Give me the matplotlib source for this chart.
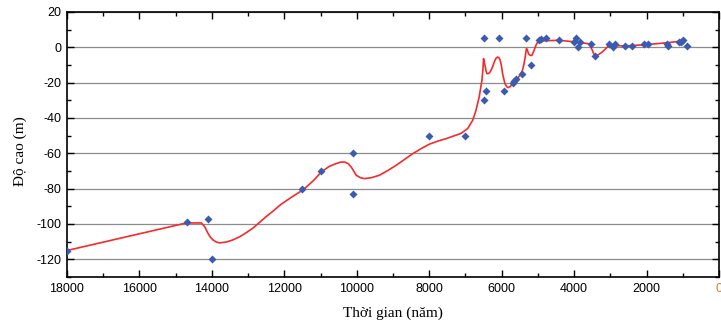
import matplotlib.pyplot as plt
from matplotlib.ticker import MultipleLocator

plt.rcParams['axes.unicode_minus'] = False

# Measured sea level points (years BP, metres)
pt_years = [18000, 14700, 14100, 14000, 11500, 11000, 10100, 10100, 8000, 7000,
            6500, 6430, 6480, 6070, 5330, 5935, 5700, 5650, 5600, 5440, 5180,
            4980, 4915, 4780, 4430, 3950, 4000, 3840, 3900, 3540, 3430, 3030,
            2920, 2875, 2590, 2410, 2080, 1950, 1430, 1415, 1105, 1040, 985, 885]
pt_levels = [-115, -99, -97, -120, -80, -70, -83, -60, -50, -50,
             5, -25, -30, 5, 5, -25, -20, -19, -18, -15, -10,
             4, 4.6, 5, 4, 5, 3, 3, 0, 2, -5, 2,
             0, 2, 1, 1, 2, 2, 2, 1, 3, 3, 4, 1]

# Fitted curve
fit_years = [18000, 14700, 14290, 14200, 14105, 14040, 13970, 13880, 13785, 13600,
             13420, 13230, 13050, 12860, 12680, 12500, 12310, 12100, 11800, 11470,
             11200, 10980, 10770, 10570, 10450, 10340, 10240, 10155, 10080, 10015,
             9900, 9790, 9600, 9375, 9150, 8915, 8455, 8220, 7995, 7750,
             7535, 7120, 6940, 6800, 6710, 6620, 6545, 6515, 6500, 6480,
             6460, 6430, 6405, 6360, 6320, 6260, 6205, 6160, 6115, 6075,
             6040, 6005, 5975, 5940, 5910, 5860, 5820, 5770, 5715, 5640,
             5560, 5490, 5425, 5385, 5350, 5330, 5315, 5290, 5260, 5210,
             5165, 5110, 5055, 5010, 4965, 4415, 3950, 3585, 3500, 3420,
             3320, 3220, 3035, 2575, 2025, 1430, 1110, 970]
fit_levels = [-115, -99.4, -99.4, -101.5, -105.4, -107.5, -109, -110.2, -110.7, -110.2,
              -109, -107.2, -104.9, -102.2, -99, -95.8, -92.7, -89, -84.8, -80.5,
              -75.5, -70.6, -67.5, -65.8, -65, -64.9, -65.8, -67.7, -70.2, -72.4,
              -73.8, -74.3, -73.8, -72.4, -69.8, -66.8, -60.2, -57.3, -54.8, -53,
              -51.7, -48.7, -46, -41.3, -35.7, -28, -18.7, -12, -6.4, -8.5,
              -10.2, -13.5, -14.9, -14.8, -14, -11.5, -8.3, -6.3, -5.5, -5.8,
              -7.4, -10.5, -14.9, -18, -20.5, -22.3, -22.8, -22.3, -21.1, -19.5,
              -17.7, -15.5, -13, -9.5, -5.5, -2.5, -0.7, -1.5, -3.6, -4.6,
              -4.5, -2, 1.1, 2.8, 3.6, 4, 3, 2, -1.5, -5.5,
              -4, -2.6, 1.1, 0.8, 1.5, 2.6, 3.4, 4]

fig = plt.figure(figsize=(7.21, 3.27), dpi=100)
ax = fig.add_axes([67/721, 1 - 277/327, 652/721, 265/327])

ax.plot(fit_years, fit_levels, color='#f52a2a', lw=1.2, zorder=3)
ax.plot(pt_years, pt_levels, 'D', color='#3a5bb0', ms=4.2, mec='none', zorder=4)

ax.set_xlim(18000, 0)
ax.set_ylim(-130, 20)
ax.xaxis.set_major_locator(MultipleLocator(2000))
ax.xaxis.set_minor_locator(MultipleLocator(1000))
ax.yaxis.set_major_locator(MultipleLocator(20))
ax.yaxis.set_minor_locator(MultipleLocator(10))
ax.grid(axis='y', which='major', color='#8c8c8c', lw=0.9)
ax.set_axisbelow(True)

ax.tick_params(which='both', direction='in', top=True, right=True, width=1, colors='black')
ax.tick_params(which='major', length=5, labelsize=9, pad=4)
ax.tick_params(which='minor', length=3)
for lab in ax.get_xticklabels() + ax.get_yticklabels():
    lab.set_family('Liberation Sans')
for sp in ax.spines.values():
    sp.set_linewidth(1.2)

fig.canvas.draw()
for lab in ax.get_xticklabels():
    if lab.get_text() == '0':
        lab.set_color('#c8822a')

ax.set_xlabel('Thời gian (năm)', family='Liberation Serif', fontsize=11)
ax.set_ylabel('Độ cao (m)', family='Liberation Serif', fontsize=11)
ax.xaxis.set_label_coords(0.5, -0.11)
ax.yaxis.set_label_coords(-0.062, 0.475)

fig.savefig('out.png', dpi=100)
